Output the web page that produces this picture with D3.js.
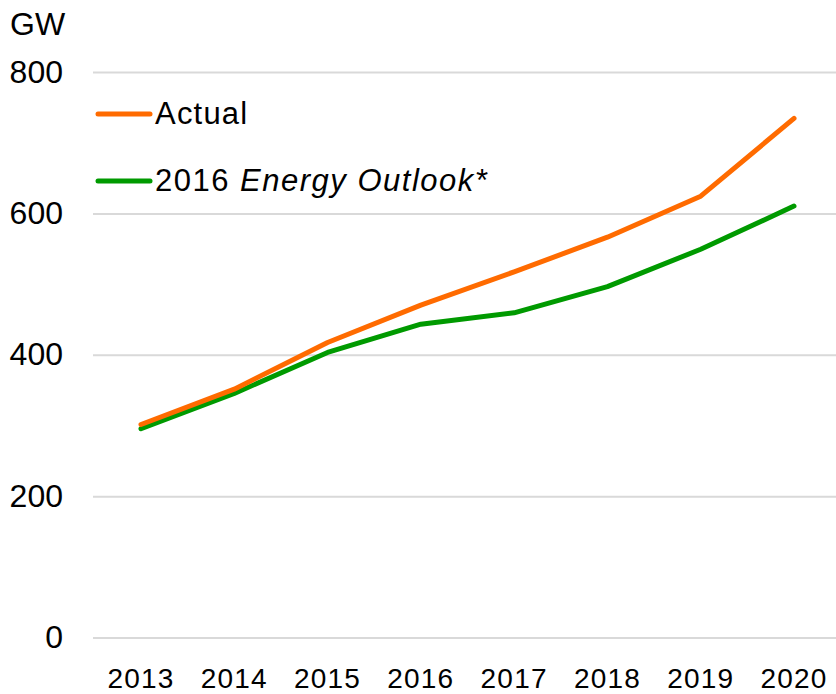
<!DOCTYPE html>
<html><head><meta charset="utf-8">
<script src="https://cdn.jsdelivr.net/npm/d3@7"></script>
<style>body{margin:0;background:#fff}svg{display:block}text{font-family:"Liberation Sans",Arial,sans-serif;fill:#000}</style>
</head><body>
<script>
const years = ["2013","2014","2015","2016","2017","2018","2019","2020"];
const actual = [302, 352, 418, 471, 518, 567, 625, 735];
const outlook = [296, 346, 404, 444, 460, 497, 550, 611];
const yTicks = [0, 200, 400, 600, 800];
const seriesNames = ["Actual", "2016 ", "Energy Outlook*"];
const colors = {actual: "#ff6b00", outlook: "#009a00"};

const W = 836, H = 694;
const svg = d3.select("body").append("svg").attr("width", W).attr("height", H);
const x = d3.scalePoint().domain(years).range([141, 794]);
const y = d3.scaleLinear().domain([0, 800]).range([638, 72.5]);

// gridlines
svg.append("g").selectAll("line").data(yTicks).join("line")
  .attr("x1", 93).attr("x2", W).attr("y1", d => y(d)).attr("y2", d => y(d))
  .attr("stroke", "#d9d9d9").attr("stroke-width", 2);

// y labels
svg.append("g").selectAll("text").data(yTicks).join("text")
  .attr("x", 63).attr("y", d => y(d) + 10).attr("text-anchor", "end")
  .attr("font-size", 32).text(d => d);
svg.append("text").attr("x", 10).attr("y", 35).attr("font-size", 32).text("GW");

// x labels
svg.append("g").selectAll("text").data(years).join("text")
  .attr("x", d => x(d)).attr("y", 688).attr("text-anchor", "middle")
  .attr("font-size", 28).attr("letter-spacing", 1.2).text(d => d);

const line = d3.line().x((d, i) => x(years[i])).y(d => y(d));
svg.append("path").datum(outlook).attr("d", line).attr("fill", "none")
  .attr("stroke", colors.outlook).attr("stroke-width", 5)
  .attr("stroke-linecap", "round").attr("stroke-linejoin", "round");
svg.append("path").datum(actual).attr("d", line).attr("fill", "none")
  .attr("stroke", colors.actual).attr("stroke-width", 5)
  .attr("stroke-linecap", "round").attr("stroke-linejoin", "round");

// legend
const lg = svg.append("g");
lg.append("line").attr("x1", 98).attr("x2", 150).attr("y1", 114).attr("y2", 114)
  .attr("stroke", colors.actual).attr("stroke-width", 5).attr("stroke-linecap", "round");
lg.append("text").attr("x", 155).attr("y", 124).attr("font-size", 31)
  .attr("letter-spacing", 1.2).text(seriesNames[0]);
lg.append("line").attr("x1", 98).attr("x2", 150).attr("y1", 181).attr("y2", 181)
  .attr("stroke", colors.outlook).attr("stroke-width", 5).attr("stroke-linecap", "round");
const t2 = lg.append("text").attr("x", 155).attr("y", 191).attr("font-size", 31)
  .attr("letter-spacing", 1.5);
t2.append("tspan").text(seriesNames[1]);
t2.append("tspan").attr("font-style", "italic").text(seriesNames[2]);
</script>
</body></html>
